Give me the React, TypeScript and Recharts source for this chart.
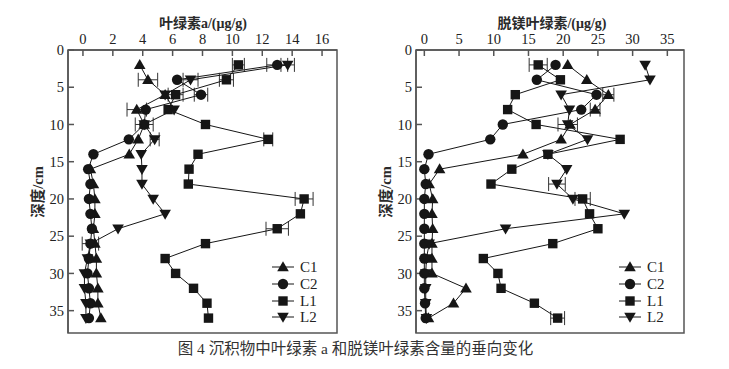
import React from 'react';
import { LineChart, Line, XAxis, YAxis, ErrorBar, Legend, ReferenceArea } from 'recharts';

// Depth (cm) of each sample
const depths = [2, 4, 6, 8, 10, 12, 14, 16, 18, 20, 22, 24, 26, 28, 30, 32, 34, 36];

// Left panel: 叶绿素a (μg/g)
const chlC1 = [3.8, 4.35, 5.5, 3.6, 4.1, 3.7, 3.1, 0.5, 0.7, 0.8, 0.8, 0.7, 0.8, 0.9, 0.9, 1.0, 1.0, 1.2];
const chlC2 = [13.0, 6.3, 7.9, 4.2, 4.1, 3.07, 0.7, 0.35, 0.5, 0.4, 0.5, 0.6, 0.5, 0.4, 0.3, 0.4, 0.5, 0.4];
const chlL1 = [10.4, 9.6, 6.2, 5.7, 8.2, 12.4, 7.7, 7.1, 7.05, 14.8, 14.55, 13.0, 8.2, 5.5, 6.2, 7.4, 8.3, 8.4];
const chlL2 = [13.7, 7.2, 5.5, 6.1, 4.1, 4.8, 3.9, 3.95, 3.95, 4.7, 5.5, 2.35, 0.5, 0.3, 0.1, 0.1, 0.2, 0.2];
const chlC1Err = [0, 0.65, 0, 0.65, 0.6, 0, 0, 0, 0, 0, 0, 0, 0, 0, 0, 0, 0, 0];
const chlC2Err = [0.7, 0, 0.45, 0, 0, 0, 0, 0, 0, 0, 0, 0, 0, 0, 0, 0, 0, 0];
const chlL1Err = [0.4, 0.47, 0.5, 0, 0, 0.3, 0, 0, 0, 0.6, 0, 0.75, 0, 0, 0, 0, 0, 0];
const chlL2Err = [0.45, 0.5, 0, 0, 0, 0.3, 0, 0, 0, 0, 0, 0, 0.55, 0, 0, 0, 0, 0];

// Right panel: 脱镁叶绿素 (μg/g)
const phC1 = [20.65, 23.4, 26.5, 24.6, 21.0, 19.7, 14.2, 2.2, 0.7, 1.2, 1.1, 1.2, 1.1, 1.1, 1.1, 6.0, 4.2, 0.6];
const phC2 = [18.9, 16.2, 24.8, 22.6, 11.3, 9.5, 0.6, 0, 0.2, 0, 0, 0, 0, 0, 0, 0, 0.1, 0.2];
const phL1 = [16.4, 19.6, 13.1, 12.0, 16.1, 28.2, 17.8, 12.6, 9.6, 22.8, 23.8, 25.0, 18.5, 8.5, 10.6, 11.05, 15.85, 19.2];
const phL2 = [31.8, 32.5, 19.7, 20.9, 20.65, 23.5, 17.8, 20.5, 19.1, 21.4, 28.8, 11.7, 0.7, 0.3, 0.2, 0.2, 0.2, 0.3];
const phC1Err = [0, 0, 0.8, 0.7, 0, 0, 0, 0, 0, 0, 0, 0, 0, 0, 0, 0, 0, 0];
const phC2Err = [0, 0, 0, 0, 0, 0, 0, 0, 0, 0, 0, 0, 0, 0, 0, 0, 0, 0];
const phL1Err = [1.3, 0, 0, 0, 0, 0, 0, 0, 0, 1.1, 0, 0, 0, 0, 0, 0, 0, 1.0];
const phL2Err = [0, 0, 0, 0, 1.4, 0, 0, 0, 1.2, 0, 0, 0, 0, 0, 0, 0, 0, 0];

const seriesNames = ['C1', 'C2', 'L1', 'L2'];
const shapes: Record<string, string> = { C1: 'up', C2: 'circle', L1: 'square', L2: 'down' };

const leftTicksX = [0, 2, 4, 6, 8, 10, 12, 14, 16];
const rightTicksX = [0, 5, 10, 15, 20, 25, 30, 35];
const ticksY = [0, 5, 10, 15, 20, 25, 30, 35];

const leftTitle = '叶绿素a/(μg/g)';
const rightTitle = '脱镁叶绿素/(μg/g)';
const yTitle = '深度/cm';
const caption = '图 4 沉积物中叶绿素 a 和脱镁叶绿素含量的垂向变化';

const INK = '#161616';
const AXIS = '#555';
const SERIF = "'Liberation Serif', 'Noto Sans CJK SC', serif";

const build = (vals: number[], errs: number[]) =>
  depths.map((d, i) => ({ depth: d, v: vals[i], e: errs[i] }));

function Marker({ shape, cx, cy }: { shape: string; cx: number; cy: number }) {
  if (shape === 'circle') return <circle cx={cx} cy={cy} r={5.2} fill={INK} />;
  if (shape === 'square') return <rect x={cx - 4.7} y={cy - 4.7} width={9.4} height={9.4} fill={INK} />;
  if (shape === 'up')
    return <path d={`M${cx},${cy - 5.8} L${cx + 5.8},${cy + 4.2} L${cx - 5.8},${cy + 4.2} Z`} fill={INK} />;
  return <path d={`M${cx},${cy + 5.8} L${cx + 5.8},${cy - 4.2} L${cx - 5.8},${cy - 4.2} Z`} fill={INK} />;
}

const makeDot = (name: string) => (props: any) => {
  const { cx, cy, index } = props;
  if (cx == null || cy == null || isNaN(cx) || isNaN(cy)) return <g key={`${name}-${index}`} />;
  return (
    <g key={`${name}-${index}`}>
      <Marker shape={shapes[name]} cx={cx} cy={cy} />
    </g>
  );
};

const renderLegend = (props: any) => {
  const payload = props.payload || [];
  return (
    <div style={{ display: 'flex', flexDirection: 'column' }}>
      {payload.map((p: any) => (
        <div key={p.value} style={{ height: 16.7, display: 'flex', alignItems: 'center' }}>
          <svg width={22} height={14} style={{ display: 'block' }}>
            <line x1={0} x2={22} y1={7} y2={7} stroke={INK} strokeWidth={1} />
            <Marker shape={shapes[p.value]} cx={11} cy={7} />
          </svg>
          <span style={{ marginLeft: 6, fontFamily: SERIF, fontSize: 15, color: '#222', lineHeight: '16px' }}>
            {p.value}
          </span>
        </div>
      ))}
    </div>
  );
};

type PanelProps = {
  left: number;
  width: number;
  yAxisWidth: number;
  marginRight: number;
  domainX: [number, number];
  ticksX: number[];
  title: string;
  titleX: number;
  yTitleX: number;
  legendLeft: number;
  series: { name: string; data: { depth: number; v: number; e: number }[] }[];
};

function Panel(p: PanelProps) {
  return (
    <div style={{ position: 'absolute', left: p.left, top: 0 }}>
      <LineChart
        width={p.width}
        height={369}
        layout="vertical"
        margin={{ top: 10, right: p.marginRight, bottom: 36, left: 0 }}
      >
        <XAxis
          type="number"
          dataKey="v"
          orientation="top"
          height={40}
          domain={p.domainX}
          allowDataOverflow
          ticks={p.ticksX}
          interval={0}
          tickSize={-6}
          tickMargin={12}
          stroke={AXIS}
          strokeWidth={1.5}
          tick={{ fontSize: 14.5, fill: '#222', fontFamily: SERIF }}
          label={{
            content: () => (
              <text
                x={p.titleX}
                y={28}
                textAnchor="middle"
                fontSize={14}
                fontWeight="bold"
                fill="#2a2a2a"
                fontFamily={SERIF}
              >
                {p.title}
              </text>
            ),
          }}
        />
        <YAxis
          type="number"
          dataKey="depth"
          width={p.yAxisWidth}
          domain={[0, 38]}
          allowDataOverflow
          ticks={ticksY}
          interval={0}
          tickSize={-6}
          tickMargin={10}
          stroke={AXIS}
          strokeWidth={1.5}
          tick={{ fontSize: 14.5, fill: '#222', fontFamily: SERIF }}
          label={{
            content: () => (
              <text
                x={p.yTitleX}
                y={192}
                transform={`rotate(-90 ${p.yTitleX} 192)`}
                textAnchor="middle"
                dominantBaseline="central"
                fontSize={14.5}
                fontWeight="bold"
                fill="#2a2a2a"
                fontFamily={SERIF}
              >
                {yTitle}
              </text>
            ),
          }}
        />
        <ReferenceArea
          x1={p.domainX[0]}
          x2={p.domainX[1]}
          y1={0}
          y2={38}
          fill="none"
          stroke={AXIS}
          strokeWidth={1.5}
          ifOverflow="visible"
        />
        {p.series.map((s) => (
          <Line
            key={s.name}
            name={s.name}
            data={s.data}
            dataKey="v"
            stroke={INK}
            strokeWidth={1}
            dot={makeDot(s.name)}
            activeDot={false}
            isAnimationActive={false}
          >
            <ErrorBar dataKey="e" direction="x" width={7} stroke="#333" strokeWidth={1} isAnimationActive={false} />
          </Line>
        ))}
        <Legend
          layout="vertical"
          align="center"
          verticalAlign="middle"
          content={renderLegend}
          wrapperStyle={{ left: p.legendLeft, top: 259, width: 60 }}
        />
      </LineChart>
    </div>
  );
}

export default function App() {
  const leftSeries = [
    { name: seriesNames[0], data: build(chlC1, chlC1Err) },
    { name: seriesNames[1], data: build(chlC2, chlC2Err) },
    { name: seriesNames[2], data: build(chlL1, chlL1Err) },
    { name: seriesNames[3], data: build(chlL2, chlL2Err) },
  ];
  const rightSeries = [
    { name: seriesNames[0], data: build(phC1, phC1Err) },
    { name: seriesNames[1], data: build(phC2, phC2Err) },
    { name: seriesNames[2], data: build(phL1, phL1Err) },
    { name: seriesNames[3], data: build(phL2, phL2Err) },
  ];
  return (
    <div style={{ position: 'absolute', left: 0, top: 0, width: 729, height: 369, background: '#fff', overflow: 'hidden' }}>
      <Panel
        left={0}
        width={345}
        yAxisWidth={68}
        marginRight={8}
        domainX={[-1, 17]}
        ticksX={leftTicksX}
        title={leftTitle}
        titleX={203}
        yTitleX={38}
        legendLeft={272}
        series={leftSeries}
      />
      <Panel
        left={345}
        width={384}
        yAxisWidth={71}
        marginRight={45}
        domainX={[-1.2, 37.4]}
        ticksX={rightTicksX}
        title={rightTitle}
        titleX={207}
        yTitleX={41}
        legendLeft={274}
        series={rightSeries}
      />
      <div
        style={{
          position: 'absolute',
          left: 0,
          width: 711,
          top: 340,
          textAlign: 'center',
          fontSize: 15.5,
          lineHeight: '18px',
          color: '#333',
          fontFamily: SERIF,
          whiteSpace: 'pre',
        }}
      >
        {caption}
      </div>
    </div>
  );
}
